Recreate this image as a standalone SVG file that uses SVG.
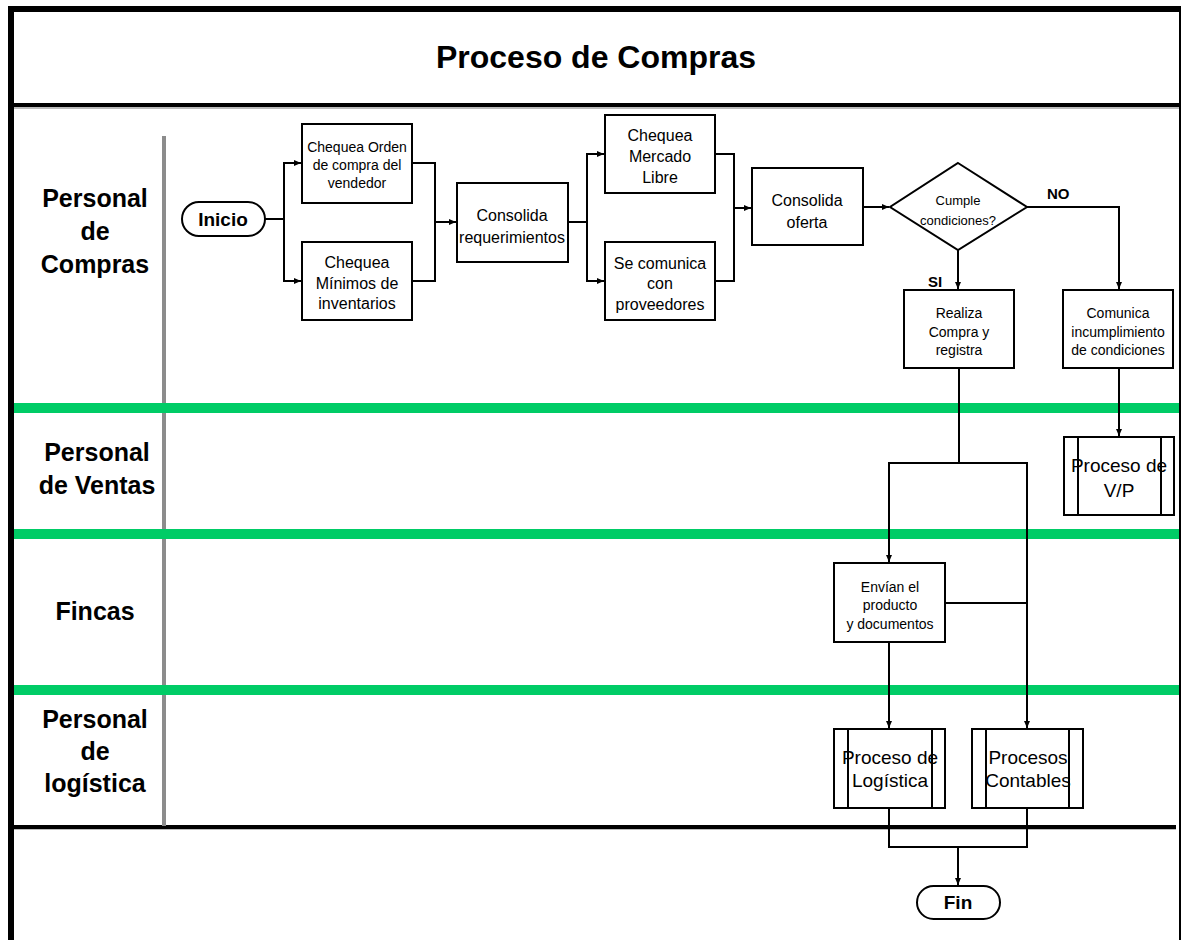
<svg xmlns="http://www.w3.org/2000/svg" width="1181" height="940" viewBox="0 0 1181 940">
  <style>
    text { font-family: "Liberation Sans", Arial, sans-serif; fill: #000; text-anchor: middle; }
    .lane { font-size: 25px; font-weight: bold; }
    .title { font-size: 32px; font-weight: bold; }
    .t16 { font-size: 16px; }
    .t14 { font-size: 14px; }
    .t13 { font-size: 13px; }
    .sub { font-size: 19px; }
    .term { font-size: 19px; font-weight: bold; }
    .lbl { font-size: 15px; font-weight: bold; text-anchor: start; }
    .box { fill: #fff; stroke: #000; stroke-width: 2; }
    .inner { stroke: #000; stroke-width: 2; }
    .conn { fill: none; stroke: #000; stroke-width: 2; }
    .green { fill: #00cc66; }
  </style>
  <defs>
    <marker id="arrow" markerWidth="7" markerHeight="6" refX="7" refY="3" orient="auto" markerUnits="userSpaceOnUse">
      <path d="M0,0 L7,3 L0,6 z" fill="#000"/>
    </marker>
  </defs>

  <rect x="0" y="0" width="1181" height="940" fill="#fff"/>

  <!-- frame -->
  <g id="frame">
    <rect x="8" y="6" width="1173" height="6" fill="#000"/>
    <rect x="8" y="6" width="6" height="934" fill="#000"/>
    <rect x="1179" y="6" width="2" height="934" fill="#000"/>
    <rect x="14" y="106" width="1165" height="3" fill="#bbb"/>
    <rect x="14" y="103" width="1165" height="4" fill="#000"/>
    <rect x="14" y="828" width="1162" height="2" fill="#bbb"/>
    <rect x="14" y="825" width="1162" height="4" fill="#000"/>
    <rect x="162" y="136" width="4" height="690" fill="#8c8c8c"/>
    <rect class="green" x="14" y="403" width="1165" height="10"/>
    <rect class="green" x="14" y="529" width="1165" height="10"/>
    <rect class="green" x="14" y="685" width="1165" height="10"/>
    <text class="title" x="596" y="68">Proceso de Compras</text>
  </g>

  <!-- swimlane headers -->
  <g id="lane-compras">
    <text class="lane" x="95" y="207">Personal</text>
    <text class="lane" x="95" y="240">de</text>
    <text class="lane" x="95" y="273">Compras</text>
  </g>
  <g id="lane-ventas">
    <text class="lane" x="97" y="461">Personal</text>
    <text class="lane" x="97" y="494">de Ventas</text>
  </g>
  <g id="lane-fincas">
    <text class="lane" x="95" y="620">Fincas</text>
  </g>
  <g id="lane-logistica">
    <text class="lane" x="95" y="728">Personal</text>
    <text class="lane" x="95" y="760">de</text>
    <text class="lane" x="95" y="792">logística</text>
  </g>

  <!-- connectors -->
  <g id="connectors">
    <path class="conn" d="M265,219 H284 V163 H301" marker-end="url(#arrow)"/>
    <path class="conn" d="M284,219 V281 H301" marker-end="url(#arrow)"/>
    <path class="conn" d="M412,163 H435 V222 H456" marker-end="url(#arrow)"/>
    <path class="conn" d="M412,281 H435 V222"/>
    <path class="conn" d="M568,222 H587 V154 H604" marker-end="url(#arrow)"/>
    <path class="conn" d="M587,222 V281 H604" marker-end="url(#arrow)"/>
    <path class="conn" d="M715,154 H734 V208 H751" marker-end="url(#arrow)"/>
    <path class="conn" d="M715,281 H734 V208"/>
    <path class="conn" d="M863,207 H889" marker-end="url(#arrow)"/>
    <path class="conn" d="M958,250 V289" marker-end="url(#arrow)"/>
    <path class="conn" d="M1027,207 H1119 V289" marker-end="url(#arrow)"/>
    <path class="conn" d="M1119,368 V436" marker-end="url(#arrow)"/>
    <path class="conn" d="M959,368 V463 H889 V562" marker-end="url(#arrow)"/>
    <path class="conn" d="M959,463 H1027 V728" marker-end="url(#arrow)"/>
    <path class="conn" d="M945,603 H1027"/>
    <path class="conn" d="M889,642 V728" marker-end="url(#arrow)"/>
    <path class="conn" d="M889,808 V847 H1027 V808"/>
    <path class="conn" d="M958,847 V885" marker-end="url(#arrow)"/>
    <text class="lbl" x="1047" y="199">NO</text>
    <text class="lbl" x="928" y="287">SI</text>
  </g>

  <!-- nodes -->
  <g id="inicio">
    <rect class="box" x="182" y="202" width="83" height="34" rx="17"/>
    <text class="term" x="223" y="226">Inicio</text>
  </g>
  <g id="chequea-orden">
    <rect class="box" x="302" y="124" width="110" height="79"/>
    <text class="t14" x="357" y="152">Chequea Orden</text>
    <text class="t14" x="357" y="170">de compra del</text>
    <text class="t14" x="357" y="188">vendedor</text>
  </g>
  <g id="chequea-minimos">
    <rect class="box" x="302" y="242" width="110" height="78"/>
    <text class="t16" x="357" y="268">Chequea</text>
    <text class="t16" x="357" y="289">Mínimos de</text>
    <text class="t16" x="357" y="309">inventarios</text>
  </g>
  <g id="consolida-requerimientos">
    <rect class="box" x="457" y="183" width="111" height="79"/>
    <text class="t16" x="512" y="221">Consolida</text>
    <text class="t16" x="512" y="243">requerimientos</text>
  </g>
  <g id="chequea-mercado">
    <rect class="box" x="605" y="115" width="110" height="78"/>
    <text class="t16" x="660" y="141">Chequea</text>
    <text class="t16" x="660" y="162">Mercado</text>
    <text class="t16" x="660" y="183">Libre</text>
  </g>
  <g id="comunica-proveedores">
    <rect class="box" x="605" y="242" width="110" height="78"/>
    <text class="t16" x="660" y="269">Se comunica</text>
    <text class="t16" x="660" y="289">con</text>
    <text class="t16" x="660" y="310">proveedores</text>
  </g>
  <g id="consolida-oferta">
    <rect class="box" x="752" y="168" width="111" height="77"/>
    <text class="t16" x="807" y="206">Consolida</text>
    <text class="t16" x="807" y="228">oferta</text>
  </g>
  <g id="cumple-condiciones">
    <polygon class="box" points="958,163 1027,207 958,250 890,207"/>
    <text class="t13" x="958" y="205">Cumple</text>
    <text class="t13" x="958" y="225">condiciones?</text>
  </g>
  <g id="realiza-compra">
    <rect class="box" x="904" y="290" width="110" height="78"/>
    <text class="t14" x="959" y="318">Realiza</text>
    <text class="t14" x="959" y="337">Compra y</text>
    <text class="t14" x="959" y="355">registra</text>
  </g>
  <g id="comunica-incumplimiento">
    <rect class="box" x="1063" y="290" width="110" height="78"/>
    <text class="t14" x="1118" y="318">Comunica</text>
    <text class="t14" x="1118" y="337">incumplimiento</text>
    <text class="t14" x="1118" y="355">de condiciones</text>
  </g>
  <g id="proceso-vp">
    <rect class="box" x="1064" y="437" width="110" height="78"/>
    <line class="inner" x1="1078" y1="437" x2="1078" y2="515"/>
    <line class="inner" x1="1161" y1="437" x2="1161" y2="515"/>
    <text class="sub" x="1119" y="472">Proceso de</text>
    <text class="sub" x="1119" y="497">V/P</text>
  </g>
  <g id="envian-producto">
    <rect class="box" x="834" y="563" width="111" height="79"/>
    <text class="t14" x="890" y="592">Envían el</text>
    <text class="t14" x="890" y="610">producto</text>
    <text class="t14" x="890" y="629">y documentos</text>
  </g>
  <g id="proceso-logistica">
    <rect class="box" x="834" y="729" width="111" height="79"/>
    <line class="inner" x1="848" y1="729" x2="848" y2="808"/>
    <line class="inner" x1="932" y1="729" x2="932" y2="808"/>
    <text class="sub" x="890" y="764">Proceso de</text>
    <text class="sub" x="890" y="787">Logística</text>
  </g>
  <g id="procesos-contables">
    <rect class="box" x="972" y="729" width="111" height="79"/>
    <line class="inner" x1="986" y1="729" x2="986" y2="808"/>
    <line class="inner" x1="1069" y1="729" x2="1069" y2="808"/>
    <text class="sub" x="1028" y="764">Procesos</text>
    <text class="sub" x="1028" y="787">Contables</text>
  </g>
  <g id="fin">
    <rect class="box" x="917" y="886" width="83" height="33" rx="16.5"/>
    <text class="term" x="958" y="909">Fin</text>
  </g>
</svg>
